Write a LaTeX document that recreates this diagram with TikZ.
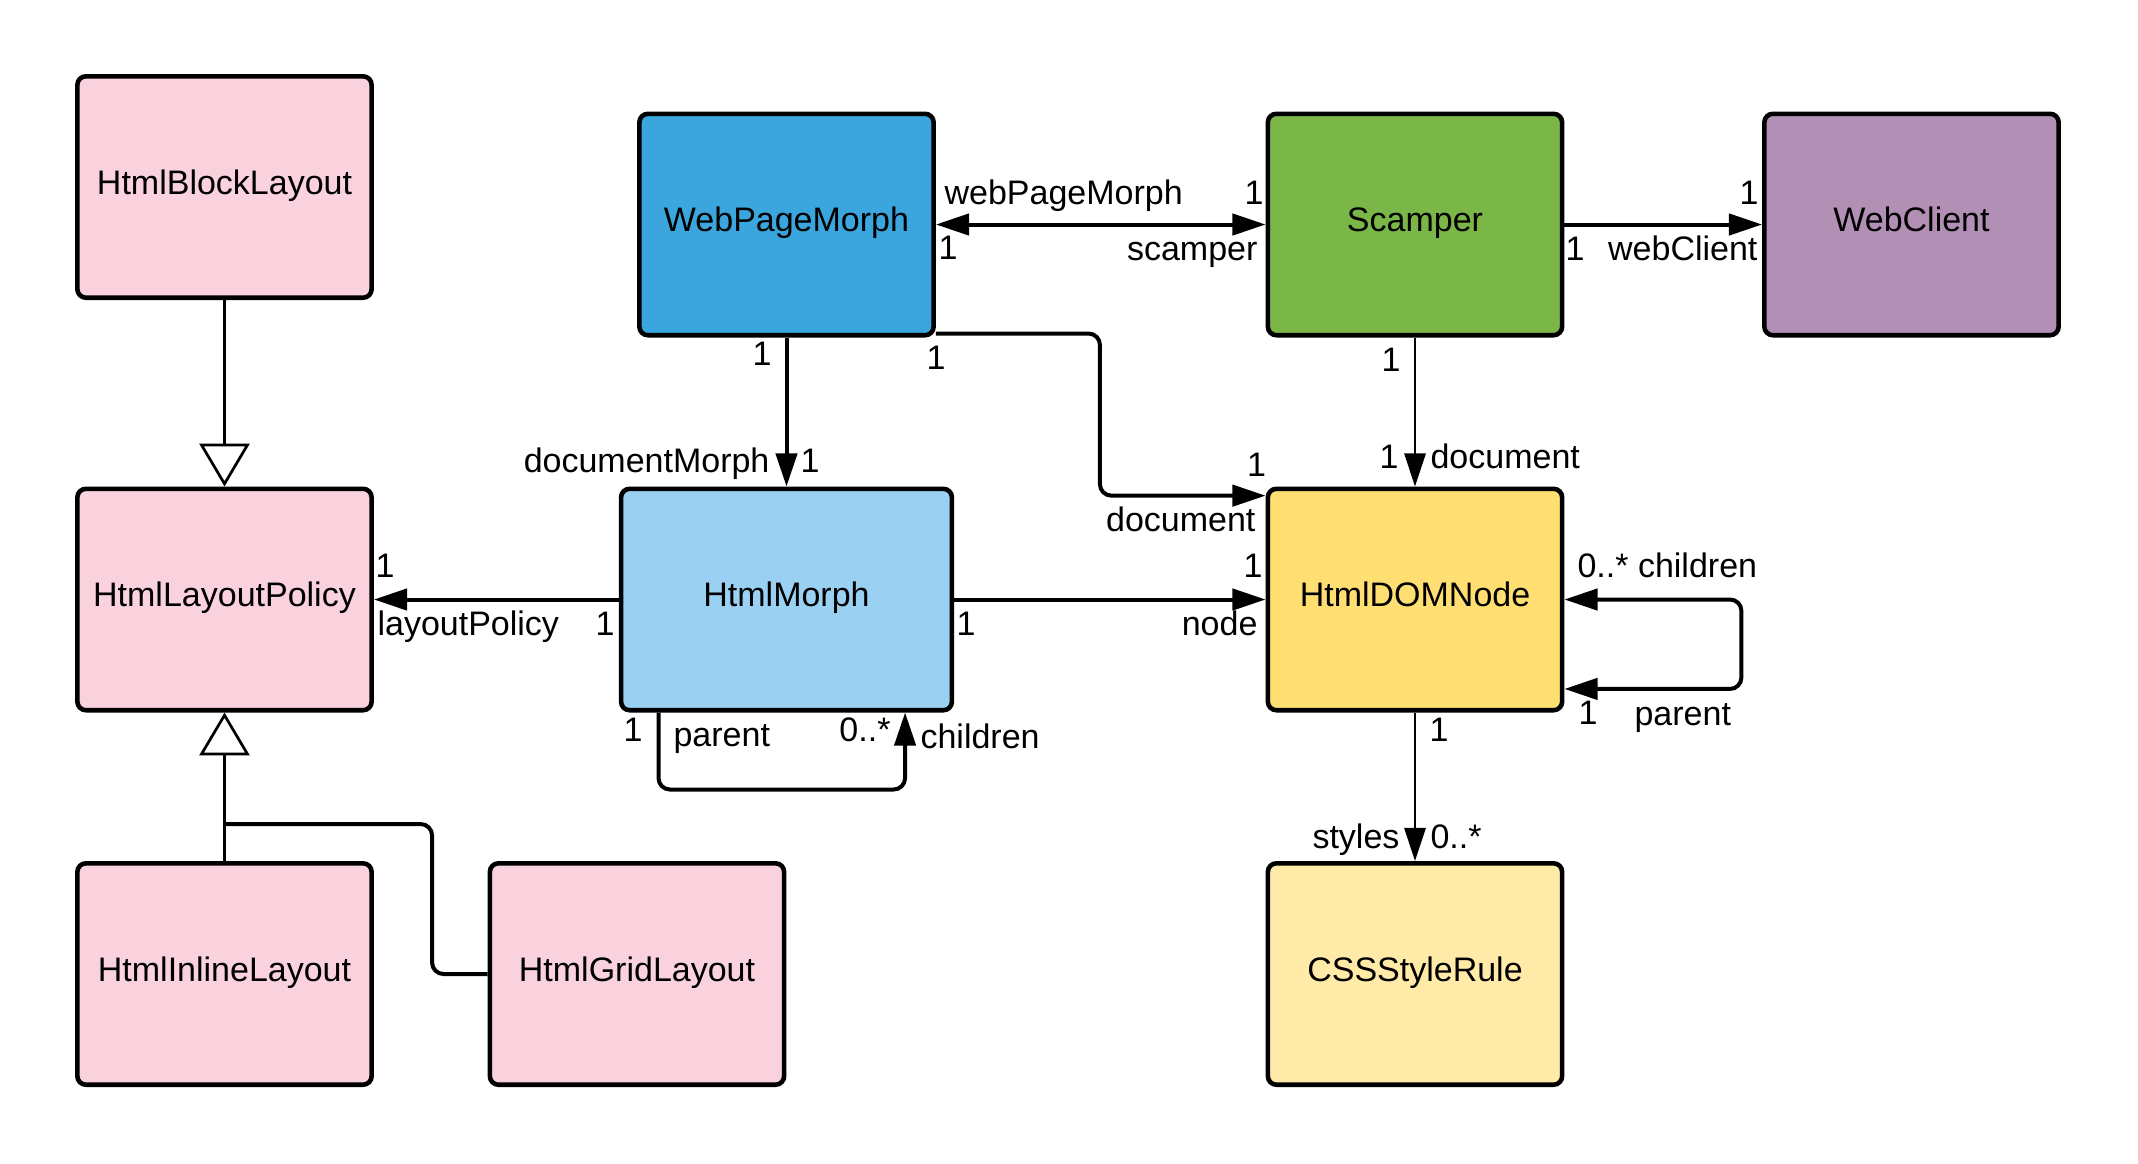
\documentclass[tikz,border=0pt]{standalone}
\usepackage{fontspec}
\setmainfont{Liberation Sans}
\usetikzlibrary{arrows.meta}

\begin{document}
\begin{tikzpicture}[x=0.35pt,y=0.35pt,yscale=-1,
  font=\fontsize{11.9}{14}\selectfont,
  >={Triangle[length=11.6pt,width=7.4pt]},
  cls/.style={draw, line width=1.6pt, rounded corners=3pt, minimum width=103pt, minimum height=77.5pt, inner sep=0pt, text height=8.6pt, text depth=3.4pt},
  pinkbox/.style={cls, fill={rgb, 255:red, 249; green, 210; blue, 222 }},
  lbl/.style={inner sep=0pt, text height=9.6pt, text depth=1.4pt},
  assoc/.style={line width=1.4pt},
  thinassoc/.style={line width=0.95pt},
  gen/.style={line width=0.95pt, -{Triangle[open, length=15pt, width=17.5pt]}}]
\useasboundingbox (0,0) rectangle (2138,1163);

%Shape: Rectangle
\node[pinkbox] (block) at (224.5,187) {HtmlBlockLayout};
%Shape: Rectangle
\node[pinkbox] (policy) at (224.5,599.5) {HtmlLayoutPolicy};
%Shape: Rectangle
\node[pinkbox] (inline) at (224.5,974) {HtmlInlineLayout};
%Shape: Rectangle
\node[pinkbox] (grid) at (637,974) {HtmlGridLayout};
%Shape: Rectangle
\node[cls, fill={rgb, 255:red, 58; green, 166; blue, 221 }] (webpage) at (786.5,224.5) {WebPageMorph};
%Shape: Rectangle
\node[cls, fill={rgb, 255:red, 122; green, 182; blue, 72 }] (scamper) at (1415,224.5) {Scamper};
%Shape: Rectangle
\node[cls, fill={rgb, 255:red, 178; green, 143; blue, 180 }] (webclient) at (1911.5,224.5) {WebClient};
%Shape: Rectangle
\node[cls, minimum width=115.8pt, fill={rgb, 255:red, 154; green, 208; blue, 242 }] (morph) at (786.5,599.5) {HtmlMorph};
%Shape: Rectangle
\node[cls, fill={rgb, 255:red, 255; green, 223; blue, 113 }] (domnode) at (1415,599.5) {HtmlDOMNode};
%Shape: Rectangle
\node[cls, fill={rgb, 255:red, 255; green, 235; blue, 167 }] (cssrule) at (1415,974) {CSSStyleRule};

%Straight Lines
\draw[gen] (block) -- (policy);
%Straight Lines
\draw[gen] (inline) -- (policy);
\coordinate (joint) at (224.5,824);
%Straight Lines
\draw[assoc, rounded corners=4pt] (grid.west) -- ++(-55.5,0) |- (joint);
%Straight Lines
\draw[assoc, <->] (webpage) -- (scamper);
%Straight Lines
\draw[assoc, ->] (scamper) -- (webclient);
%Straight Lines
\draw[assoc, ->] (webpage) -- (morph);
%Straight Lines
\draw[assoc, ->, rounded corners=4pt] ([yshift=-1.4pt]webpage.south east) -- ++(164,0) |- ([yshift=3.2pt]domnode.north west);
%Straight Lines
\draw[thinassoc, ->] (scamper) -- (domnode);
%Straight Lines
\draw[assoc, ->] (morph) -- (policy);
%Straight Lines
\draw[assoc, ->] (morph) -- (domnode);
%Straight Lines
\draw[assoc, ->, rounded corners=4pt] ([xshift=13.9pt]morph.south west) -- ++(0,77) -| ([xshift=-17.2pt]morph.south east);
%Straight Lines
\draw[assoc, <->, rounded corners=4pt] (domnode.east) -- ++(177,0) |- ([yshift=31.3pt]domnode.east);
%Straight Lines
\draw[thinassoc, ->] (domnode) -- (cssrule);

% Text Node
\node[lbl, anchor=west] (wpmRole) at (944,193) {webPageMorph};
% Text Node
\node[lbl] (wpmMult) at (948,248) {1};
% Text Node
\node[lbl] (scMult) at (1254,193) {1};
% Text Node
\node[lbl, anchor=east] (scRole) at (1258,249) {scamper};
% Text Node
\node[lbl] (wcMult) at (1749,193) {1};
% Text Node
\node[lbl] (scwMult) at (1575,249) {1};
% Text Node
\node[lbl, anchor=east] (wcRole) at (1758,249) {webClient};
% Text Node
\node[lbl] (wpmDownMult) at (762,354) {1};
% Text Node
\node[lbl] (wpmDocMult) at (936,358) {1};
% Text Node
\node[lbl, anchor=east] (dmRole) at (770,461) {documentMorph};
% Text Node
\node[lbl] (dmMult) at (810,461) {1};
% Text Node
\node[lbl] (scDownMult) at (1391,360) {1};
% Text Node
\node[lbl] (scDocMult) at (1389,457) {1};
% Text Node
\node[lbl, anchor=west] (scDocRole) at (1430,457) {document};
% Text Node
\node[lbl] (wpDocMult) at (1256.5,465) {1};
% Text Node
\node[lbl, anchor=east] (wpDocRole) at (1256,520) {document};
% Text Node
\node[lbl] (nodeMult) at (1253,566) {1};
% Text Node
\node[lbl, anchor=west] (domChildren) at (1577,566) {0..* children};
% Text Node
\node[lbl] (policyMult) at (385,566) {1};
% Text Node
\node[lbl, anchor=west] (policyRole) at (377,624) {layoutPolicy};
% Text Node
\node[lbl] (morphLeftMult) at (605,624) {1};
% Text Node
\node[lbl] (morphRightMult) at (966,624) {1};
% Text Node
\node[lbl, anchor=east] (nodeRole) at (1258,624) {node};
% Text Node
\node[lbl] (parentMult) at (633,730) {1};
% Text Node
\node[lbl, anchor=west] (parentRole) at (673,735) {parent};
% Text Node
\node[lbl] (childMult) at (865,730) {0..*};
% Text Node
\node[lbl, anchor=west] (childRole) at (920,737) {children};
% Text Node
\node[lbl] (domParentMult) at (1588,713) {1};
% Text Node
\node[lbl, anchor=west] (domParent) at (1634,714) {parent};
% Text Node
\node[lbl] (stylesSrcMult) at (1439,730) {1};
% Text Node
\node[lbl, anchor=east] (stylesRole) at (1400,837) {styles};
% Text Node
\node[lbl, anchor=west] (stylesMult) at (1430,837) {0..*};

\end{tikzpicture}
\end{document}
